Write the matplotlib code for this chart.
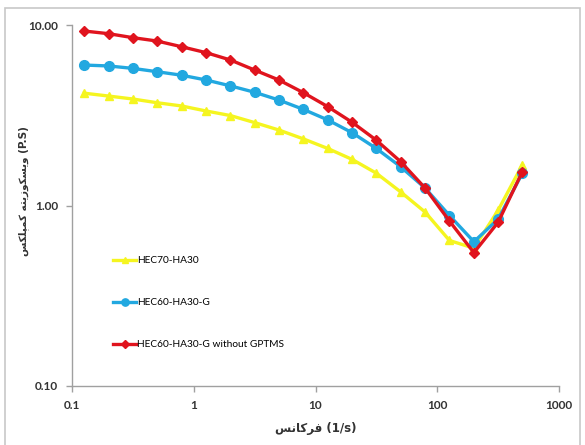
import matplotlib.pyplot as plt
from matplotlib.patches import Rectangle

# Datos
frecuencia = [0.126, 0.2, 0.316, 0.5, 0.794, 1.26, 2.0, 3.16, 5.0, 7.94,
              12.6, 20.0, 31.6, 50.0, 79.4, 126.0, 200.0, 316.0, 500.0]
hec70_ha30 = [4.19, 4.04, 3.89, 3.71, 3.56, 3.34, 3.15, 2.88, 2.62, 2.34,
              2.07, 1.80, 1.51, 1.19, 0.92, 0.64, 0.58, 0.94, 1.68]
hec60_ha30_g = [6.00, 5.93, 5.75, 5.51, 5.27, 4.96, 4.60, 4.24, 3.84, 3.41,
                2.98, 2.53, 2.07, 1.64, 1.25, 0.88, 0.63, 0.84, 1.51]
hec60_sin_gptms = [9.26, 8.95, 8.51, 8.15, 7.58, 7.03, 6.40, 5.63, 4.96, 4.22,
                   3.53, 2.89, 2.30, 1.75, 1.25, 0.82, 0.548, 0.807, 1.54]
etiquetas = ['HEC70-HA30', 'HEC60-HA30-G', 'HEC60-HA30-G without GPTMS']
xticks = [0.1, 1, 10, 100, 1000]
yticks = [0.1, 1, 10]

# Textos persas en formas de presentación (orden visual)
xlabel_fa = '\uFEB2\uFEE7\uFE8E\uFB90\uFEAE\uFED3' + ' (1/s)'
kompleks = '\uFEB2\uFB91\uFEE0\uFB59\uFEE4\uFB90'
viscosidad = '\uFEEA\uFE98\uFBFE\uFEAF\uFEEE\uFB91\uFEB4\uFBFE\uFEED'
ylabel_fa = kompleks + ' ' + viscosidad + ' (P.S)'

fig = plt.figure(figsize=(5.85, 4.45), dpi=100)
ax = fig.add_axes([72 / 585, 59 / 445, 487 / 585, 361 / 445])

# Marco exterior del gráfico
fig.patches.append(Rectangle((5 / 585, -0.05), 575 / 585, 1.05 - 8 / 445,
                             transform=fig.transFigure, fill=False,
                             edgecolor='#c8c8c8', linewidth=1.2))

ax.plot(frecuencia, hec70_ha30, color='#f5f520', marker='^', markersize=6,
        linewidth=2.4, label=etiquetas[0])
ax.plot(frecuencia, hec60_ha30_g, color='#22a8e0', marker='o', markersize=7,
        linewidth=2.4, label=etiquetas[1])
ax.plot(frecuencia, hec60_sin_gptms, color='#e0141e', marker='D', markersize=5,
        linewidth=2.4, label=etiquetas[2])

ax.set_xscale('log')
ax.set_yscale('log')
ax.set_xlim(0.1, 1000)
ax.set_ylim(0.1, 10)
ax.set_xticks(xticks)
ax.set_xticklabels(['0.1', '1', '10', '100', '1000'])
ax.set_yticks(yticks)
ax.set_yticklabels(['0.10', '1.00', '10.00'])
ax.minorticks_off()

for lab in ax.get_xticklabels() + ax.get_yticklabels():
    lab.set_fontfamily('Lato')
    lab.set_fontweight('bold')
    lab.set_fontsize(8.5)
    lab.set_color('#333333')
ax.tick_params(axis='both', direction='out', length=4, color='#a0a0a0',
               width=1)
ax.tick_params(axis='x', pad=6)
ax.tick_params(axis='y', pad=6)

for lado in ['top', 'right']:
    ax.spines[lado].set_visible(False)
for lado in ['left', 'bottom']:
    ax.spines[lado].set_color('#a0a0a0')
    ax.spines[lado].set_linewidth(1)

ax.set_xlabel(xlabel_fa, family=['DejaVu Sans'], fontweight='bold',
              fontsize=8.5, color='#333333', labelpad=8)
ax.set_ylabel(ylabel_fa, family=['DejaVu Sans'], fontweight='bold',
              fontsize=7.5, color='#333333', labelpad=4)
ax.yaxis.set_label_coords(-0.088, 0.54)

ax.legend(loc='upper left', bbox_to_anchor=(0.085, 0.36), frameon=False,
          prop={'family': 'Lato', 'size': 7.3}, labelspacing=3.25,
          handlelength=2.2, handletextpad=0.1, borderpad=0, borderaxespad=0,
          markerscale=0.75)

plt.savefig('out.png', dpi=100)
